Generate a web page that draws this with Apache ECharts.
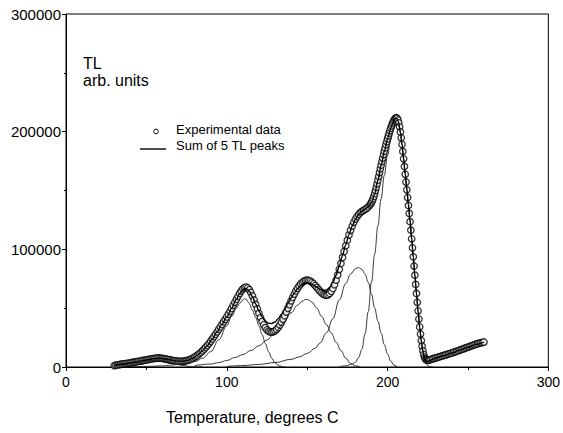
<!DOCTYPE html>
<html>
<head>
<meta charset="utf-8">
<script src="https://cdn.jsdelivr.net/npm/echarts@6/dist/echarts.min.js"></script>
<style>
html,body{margin:0;padding:0;background:#fff;}
#chart{width:563px;height:433px;}
</style>
</head>
<body>
<div id="chart"></div>
<script>
// ---- Data (TL intensities in thousands of arb. units) ----
const UNIT = 1000;
const xTicks = [0, 100, 200, 300];
const yTicks = [0, 100000, 200000, 300000];

const expTemp = [
30,31,32,33,34,35,36,37,38,39,
40,41,42,43,44,45,46,47,48,49,
50,51,52,53,54,55,56,57,58,59,
60,61,62,63,64,65,66,67,68,69,
70,71,72,73,74,75,76,77,78,79,
80,81,82,83,84,85,86,87,88,89,
90,91,92,93,94,95,96,97,98,99,
100,101,102,103,104,105,106,107,108,109,
110,111,112,113,114,115,116,117,118,119,
120,121,122,123,124,125,126,127,128,129,
130,131,132,133,134,135,136,137,138,139,
140,141,142,143,144,145,146,147,148,149,
150,151,152,153,154,155,156,157,158,159,
160,161,162,163,164,165,166,167,168,169,
170,171,172,173,174,175,176,177,178,179,
180,181,182,183,184,185,186,187,188,189,
189.5,190,190.5,191,191.5,192,192.5,193,193.5,194,
194.5,195,195.5,196,196.5,197,197.5,198,198.5,199,
199.5,200,200.5,201,201.5,202,202.5,203,203.5,204,
204.5,205,205.5,206,206.5,207,207.5,208,208.5,209,
209.5,210,210.5,211,211.5,212,212.5,213,213.5,214,
214.5,215,215.5,216,216.5,217,217.5,218,218.5,219,
219.5,220,220.5,221,221.5,222,222.5,223,223.5,224,
224.5,225,225.5,226,
227,228,229,230,231,232,233,234,235,236,
237,238,239,240,241,242,243,244,245,246,
247,248,249,250,251,252,253,254,255,256,
257,258,259,260
];
const expTL = [
1.2,1.5,1.8,2.0,2.3,2.5,2.7,2.9,3.1,3.3,
3.5,3.8,4.0,4.3,4.5,4.8,5.0,5.3,5.5,5.8,
6.0,6.3,6.6,6.9,7.1,7.3,7.5,7.6,7.6,7.5,
7.3,7.1,6.8,6.5,6.2,5.9,5.6,5.4,5.2,5.0,
4.9,4.8,4.8,4.9,5.1,5.4,5.8,6.3,6.9,7.6,
8.4,9.3,10.3,11.4,12.6,13.9,15.3,16.8,18.4,20.1,
21.9,23.8,25.8,27.8,29.9,32.0,34.1,36.2,38.3,40.4,
42.6,44.9,47.3,49.8,52.4,55.0,57.6,60.1,62.5,64.6,
66.3,67.5,67.9,67.3,65.7,63.3,60.3,56.9,53.2,49.4,
45.6,42.0,38.7,35.8,33.4,31.6,30.4,29.8,29.7,30.0,
30.8,32.0,33.6,35.6,38.0,40.7,43.6,46.7,49.9,53.1,
56.2,59.2,62.0,64.6,66.9,68.9,70.6,72.0,73.0,73.6,
73.8,73.6,73.0,72.0,70.7,69.2,67.6,66.0,64.4,63.0,
61.9,61.2,61.0,61.4,62.5,64.3,66.8,70.0,73.8,78.2,
83.0,88.0,93.1,98.2,103.1,107.8,112.2,116.2,119.8,123.0,
125.7,127.9,129.7,131.1,132.2,133.1,133.9,134.8,136.0,137.6,
138.6,139.8,141.3,143.0,145.0,147.3,149.9,152.7,155.7,158.8,
162.0,165.2,168.4,171.5,174.6,177.6,180.5,183.4,186.2,188.9,
191.5,194.0,196.4,198.7,200.9,203.0,205.0,206.8,208.4,209.8,
210.9,211.6,211.8,211.3,209.9,207.5,204.1,199.8,194.8,189.2,
183.2,176.9,170.4,163.8,157.2,150.6,144.0,137.3,130.5,123.5,
116.3,108.9,101.3,93.6,85.8,78.0,70.2,62.5,55.0,47.7,
40.7,34.1,28.0,22.5,17.7,13.7,10.6,8.4,7.0,6.2,
5.8,5.7,5.8,6.0,
6.5,7.0,7.4,7.8,8.2,8.6,9.0,9.4,9.8,10.2,
10.7,11.1,11.6,12.0,12.5,12.9,13.4,13.9,14.4,14.9,
15.4,15.9,16.4,16.9,17.4,17.9,18.4,18.9,19.4,19.8,
20.2,20.6,20.9,21.2
];

const sumTemp = [30,35,40,45,50,55,58,61,64,67,70,73,76,79,82,85,88,91,94,97,100,103,106,108,110,111,112,113,114,116,118,120,122,124,126,128,130,132,134,136,138,140,142,144,146,148,150,152,154,156,158,160,162,164,166,168,170,172,174,176,178,180,182,184,186,188,190,192,194,196,198,200,202,203,204,205,206,207,208,209,210,211,212,213,214,215,216,217,218,219,220,221,222,223,224,225,226,228,230,235,240,245,250,255,260];
const sumTL = [1.2,2.5,3.5,4.8,6.0,7.2,7.5,7.0,6.2,5.4,5.0,5.0,5.8,7.6,10.3,13.9,18.4,23.8,29.9,36.2,42.6,49.8,57.6,62.3,65.5,66.5,66.6,65.9,64.4,59.5,53.5,47.5,42.5,39.0,37.2,37.0,38.3,41.0,44.8,49.2,54.0,58.6,62.8,66.4,69.2,71.0,71.6,71.0,69.6,67.8,66.0,65.0,65.4,67.6,71.8,78.0,86.0,95.0,104.0,112.5,119.8,125.5,129.6,132.4,134.2,136.0,139.6,147.0,158.6,171.4,183.3,193.9,202.8,206.5,209.5,211.2,211.0,207.3,199.6,189.0,176.7,163.6,150.4,137.1,123.3,108.7,93.4,77.8,62.3,47.5,33.8,22.0,13.0,7.5,5.2,4.8,5.3,6.6,7.7,9.7,11.9,14.3,16.8,19.3,21.2];

const peak1Temp = [30,33,36,40,44,48,52,55,58,61,64,67,70,73,76,80,85];
const peak1TL = [1.0,1.6,2.2,3.0,3.8,4.6,5.3,5.7,5.8,5.4,4.5,3.3,2.1,1.2,0.6,0.2,0.05];

const peak2Temp = [40,50,60,65,70,75,80,85,90,95,100,103,106,108,110,111,112,114,116,118,120,122,124,126,128,130,132,134,136];
const peak2TL = [0.2,0.5,1.0,1.5,2.2,3.2,4.6,7.5,13,23,35,43,50,54,57,58,57.5,54,48,42,35,27.5,20,13,7.5,3.5,1.5,0.5,0.1];

const peak3Temp = [80,90,95,100,105,110,115,120,125,130,135,140,144,147,149,151,153,156,159,162,165,168,171,174,177,180,183];
const peak3TL = [1.2,2.5,3.8,5.5,8,10.5,14,18,23,29,37,46,52.5,56,57.5,57,55,50,43,36,29,21,14,7.5,3,1,0.2];

const peak4Temp = [100,110,120,130,140,145,150,155,158,162,166,170,174,177,180,182,184,186,188,190,192,194,196,198,200,202,204,206];
const peak4TL = [0.5,1.2,2.2,3.8,6.5,8.5,11.5,16,20.5,29,41,57,71,79,83.5,84.5,83,79,72,62,50,39,29,19,11,5,1.5,0.2];

const peak5Temp = [170,174,178,180,182,184,186,188,190,192,194,196,198,200,202,203,204,205,206,207,208,209,210,211,212,213,214,215,216,217,218,219,220,221,222,223,224,225,226,228];
const peak5TL = [0.3,1,2.5,4,8,15,28,47,72,96,120,143,163,180,193,199,203,206,207,205,199,190,178,165,152,139,125,110,94,78,62,47,33,21.5,12.5,6.5,3,1.2,0.4,0];

const texts = {
  yTitle1: 'TL',
  yTitle2: 'arb. units',
  xTitle: 'Temperature, degrees C',
  legendExp: 'Experimental data',
  legendSum: 'Sum of 5 TL peaks'
};

// ---- Build ----
function pairs(ts, vs) { return ts.map((t, i) => [t, vs[i] * UNIT]); }
const FONT = 'Liberation Sans, Arial, sans-serif';

const chart = echarts.init(document.getElementById('chart'), null, {renderer: 'svg'});
const compLine = {type: 'line', symbol: 'none', smooth: 0.4, smoothMonotone: 'x', lineStyle: {color: '#222', width: 0.9}, z: 3, silent: true};

chart.setOption({
  animation: false,
  backgroundColor: '#fff',
  grid: {left: 66, right: 14, top: 14, bottom: 66, show: true, borderColor: '#000', borderWidth: 1, backgroundColor: 'transparent'},
  xAxis: {
    type: 'value', min: xTicks[0], max: xTicks[xTicks.length - 1], interval: 100,
    axisLine: {show: true, onZero: false, lineStyle: {color: '#000', width: 1}},
    axisTick: {show: true, length: 4, lineStyle: {color: '#000'}},
    minorTick: {show: true, splitNumber: 2, length: 3, lineStyle: {color: '#000'}},
    splitLine: {show: false},
    axisLabel: {color: '#000', fontSize: 14, fontFamily: FONT, margin: 8, formatter: v => String(v)}
  },
  yAxis: {
    type: 'value', min: yTicks[0], max: yTicks[yTicks.length - 1], interval: 100000,
    axisLine: {show: true, onZero: false, lineStyle: {color: '#000', width: 1}},
    axisTick: {show: true, length: 4, lineStyle: {color: '#000'}},
    minorTick: {show: true, splitNumber: 2, length: 2, lineStyle: {color: '#000'}},
    splitLine: {show: false},
    axisLabel: {color: '#000', fontSize: 15, fontFamily: FONT, margin: 5, formatter: v => String(v)}
  },
  series: [
    {name: texts.legendExp, type: 'scatter', data: pairs(expTemp, expTL), symbol: 'circle', symbolSize: 6.5,
     itemStyle: {color: '#fff', borderColor: '#000', borderWidth: 1.3}, z: 2, silent: true},
    Object.assign({name: 'Peak 1', data: pairs(peak1Temp, peak1TL)}, compLine),
    Object.assign({name: 'Peak 2', data: pairs(peak2Temp, peak2TL)}, compLine),
    Object.assign({name: 'Peak 3', data: pairs(peak3Temp, peak3TL)}, compLine),
    Object.assign({name: 'Peak 4', data: pairs(peak4Temp, peak4TL)}, compLine),
    Object.assign({name: 'Peak 5', data: pairs(peak5Temp, peak5TL)}, compLine),
    {name: texts.legendSum, type: 'line', symbol: 'none', smooth: 0.3, smoothMonotone: 'x', data: pairs(sumTemp, sumTL),
     lineStyle: {color: '#000', width: 1.4}, z: 4, silent: true}
  ],
  graphic: [
    {type: 'text', left: 83, top: 55, style: {text: texts.yTitle1, font: '16px ' + FONT, fill: '#000'}},
    {type: 'text', left: 83, top: 72, style: {text: texts.yTitle2, font: '16px ' + FONT, fill: '#000'}},
    {type: 'circle', shape: {cx: 156, cy: 131.5, r: 2.3}, style: {fill: '#fff', stroke: '#000', lineWidth: 1}},
    {type: 'text', left: 176, top: 123, style: {text: texts.legendExp, font: '13px ' + FONT, fill: '#000'}},
    {type: 'line', shape: {x1: 140, y1: 149, x2: 166, y2: 149}, style: {stroke: '#000', lineWidth: 1.4}},
    {type: 'text', left: 176, top: 139, style: {text: texts.legendSum, font: '13px ' + FONT, fill: '#000'}},
    {type: 'text', left: 166, top: 409, style: {text: texts.xTitle, font: '16px ' + FONT, fill: '#000'}}
  ]
});
</script>
</body>
</html>
